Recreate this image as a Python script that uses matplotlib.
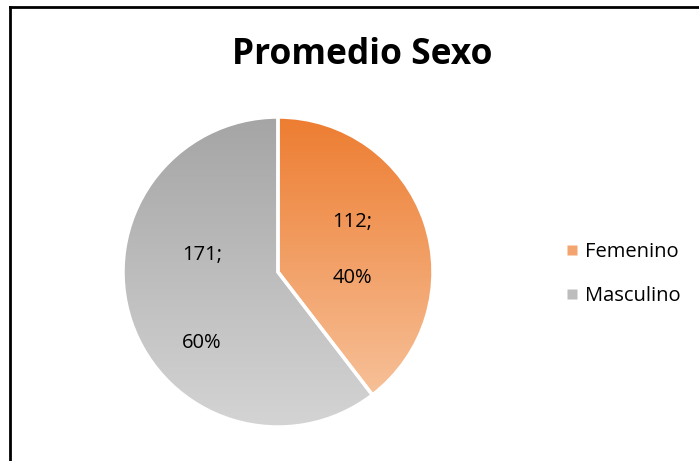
import numpy as np
import matplotlib.pyplot as plt
from matplotlib.colors import LinearSegmentedColormap
from matplotlib.lines import Line2D

labels = ['Femenino', 'Masculino']
values = [112, 171]
pct_labels = ['40%', '60%']
top_colors = ['#ED7D31', '#A5A5A5']
bottom_colors = ['#F8C8A4', '#D4D4D4']
legend_colors = ['#F4A46E', '#BDBDBD']

plt.rcParams['font.family'] = ['Open Sans', 'DejaVu Sans']

W, H = 699, 461
fig = plt.figure(figsize=(W / 100, H / 100), dpi=100)

# pie centre (278, 272) px, radius 155 px
cx, cy, r = 278, 272, 155
ax = fig.add_axes([(cx - r) / W, (H - cy - r) / H, 2 * r / W, 2 * r / H])

wedges, _ = ax.pie(values, startangle=90, counterclock=False, radius=1,
                   wedgeprops=dict(edgecolor='white', linewidth=2.5))
grad = np.linspace(0, 1, 256).reshape(-1, 1)
for w, c0, c1 in zip(wedges, top_colors, bottom_colors):
    w.set_facecolor('none')
    cmap = LinearSegmentedColormap.from_list('g', [c0, c1])
    im = ax.imshow(grad, cmap=cmap, extent=[-1, 1, -1, 1], origin='upper',
                   aspect='auto', zorder=0.5)
    im.set_clip_path(w)
ax.set_xlim(-1, 1)
ax.set_ylim(-1, 1)
ax.set_aspect('equal')
ax.axis('off')

# data labels
ax.text(0.48, 0.32, f'{values[0]};', ha='center', va='center', fontsize=14.5)
ax.text(0.48, -0.04, pct_labels[0], ha='center', va='center', fontsize=14.5)
ax.text(-0.49, 0.11, f'{values[1]};', ha='center', va='center', fontsize=14.5)
ax.text(-0.49, -0.46, pct_labels[1], ha='center', va='center', fontsize=14.5)

fig.text(362 / W, 1 - 55 / H, 'Promedio Sexo', ha='center', va='center',
         fontsize=25.5, fontweight='bold')

handles = [Line2D([], [], marker='s', linestyle='none', markersize=6.5,
                  markerfacecolor=c, markeredgecolor='none') for c in legend_colors]
fig.legend(handles, labels, loc='center left', bbox_to_anchor=(547 / W, 1 - 274 / H),
           frameon=False, fontsize=14.5, handlelength=0.7, handletextpad=0.3,
           labelspacing=1.15)

# chart border (only top and left visible)
fig.add_artist(Line2D([10 / W, 10 / W], [0, 1 - 7 / H], color='black', lw=2,
                      transform=fig.transFigure))
fig.add_artist(Line2D([10 / W, 1], [1 - 7 / H, 1 - 7 / H], color='black', lw=2,
                      transform=fig.transFigure))

fig.savefig('out.png', dpi=100)
